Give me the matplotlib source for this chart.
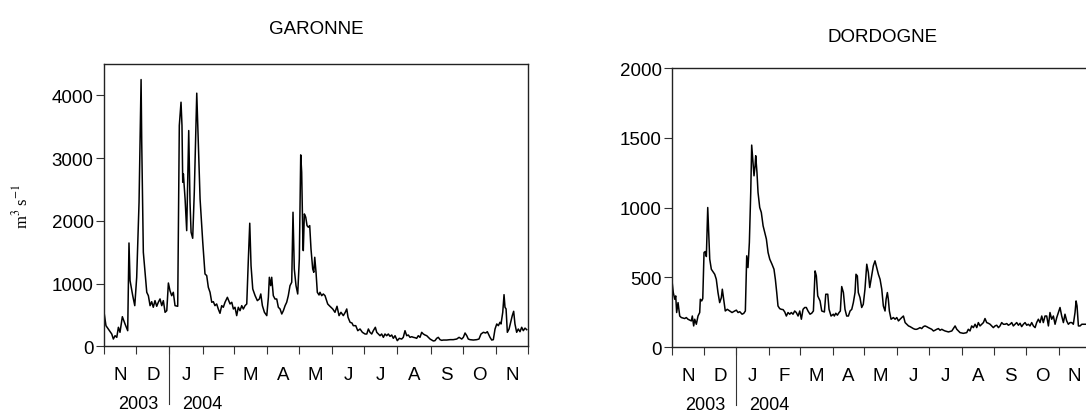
import numpy as np
import matplotlib
matplotlib.use('Agg')
import matplotlib.pyplot as plt
import matplotlib.transforms as mtransforms

plt.rcParams['font.family'] = ['Liberation Sans', 'DejaVu Sans']
plt.rcParams['mathtext.fontset'] = 'stix'

#%% data: days since 1 Nov 2003, discharge in m3/s
garonne_day = [0, 1.8, 4.0, 7.2, 8.7, 10.3, 11.9, 13.4, 14.9, 17.1, 19.6, 22.1, 23.3, 24.3,
               26.8, 28.7, 30.5, 32.7, 34.6, 35.2, 36.7, 38.3, 39.9, 41.4, 43.0, 44.5, 46.0,
               47.6, 49.2, 50.7, 52.3, 53.9, 55.4, 57.0, 58.6, 60.1, 61.6, 63.2, 64.7, 66.3,
               68.8, 70.3, 71.9, 72.8, 73.5, 74.1, 75.7, 77.2, 78.2, 79.1, 80.3, 81.3, 82.8,
               84.3, 86.6, 88.1, 89.7, 92.2, 94.3, 95.9, 97.4, 99.0, 100.6, 102.1, 103.6,
               105.2, 106.7, 108.3, 109.9, 111.4, 113.0, 115.2, 117.7, 119.3, 120.8, 122.3,
               123.9, 125.4, 127.0, 128.6, 130.1, 131.7, 133.3, 134.8, 136.1, 137.3, 138.9,
               141.1, 143.2, 145.1, 146.4, 147.9, 149.8, 152.0, 153.5, 154.4, 155.7, 156.6,
               158.1, 159.7, 161.3, 162.8, 164.4, 166.0, 167.5, 169.1, 170.6, 172.1, 173.7,
               175.3, 176.5, 177.7, 179.3, 180.9, 182.4, 183.7, 184.6, 185.6, 186.1, 187.1,
               188.4, 189.6, 190.8, 192.1, 193.3, 194.9, 195.9, 196.8, 198.0, 199.2, 200.8,
               201.7, 203.3, 204.8, 206.4, 208.9, 210.4, 212.0, 213.6, 215.7, 217.6, 219.5,
               221.3, 223.5, 225.3, 226.7, 227.9, 229.8, 231.6, 232.8, 235.1, 237.0, 239.1,
               241.3, 243.8, 245.4, 246.9, 248.4, 250.0, 251.5, 253.4, 254.7, 256.2, 257.8,
               259.3, 260.9, 262.4, 264.0, 265.5, 267.1, 268.7, 270.2, 271.8, 273.9, 275.8,
               278.0, 279.5, 281.1, 282.7, 284.2, 285.8, 287.4, 288.9, 290.5, 292.0, 293.5,
               295.1, 296.7, 298.2, 299.8, 301.4, 302.9, 304.5, 306.1, 307.6, 309.1, 310.7,
               312.2, 313.8, 315.4, 316.9, 320.1, 323.2, 326.2, 329.4, 331.6, 334.1, 335.6,
               337.2, 338.8, 340.2, 341.8, 344.9, 348.1, 350.2, 352.1, 354.3, 356.5, 358.0,
               360.5, 362.1, 363.6, 365.2, 366.8, 368.3, 369.8, 370.8, 372.4, 373.6, 374.5,
               375.5, 376.7, 378.3, 379.8, 381.3, 382.6, 383.8, 385.4, 386.9, 388.5, 390.1,
               391.6, 393.2, 394.8]
garonne_q = [542, 329, 276, 196, 116, 169, 143, 303, 223, 472, 356, 249, 1647, 1047,
             807, 648, 1100, 2297, 4252, 3254, 1500, 1180, 861, 807, 648, 711, 622,
             728, 638, 702, 755, 648, 728, 542, 568, 1009, 887, 807, 861, 648,
             638, 3519, 3891, 3519, 2616, 2748, 2349, 1844, 2721, 3439, 2297, 1818, 1722,
             2456, 4035, 3199, 2349, 1659, 1153, 1127, 941, 861, 702, 711, 648,
             675, 595, 526, 648, 622, 702, 781, 675, 702, 595, 622,
             489, 622, 568, 648, 595, 648, 675, 1392, 1962, 1285, 914,
             807, 728, 755, 834, 648, 542, 489, 781, 1100, 967, 1100,
             807, 754, 754, 622, 595, 515, 568, 648, 702, 807, 967,
             1021, 2137, 1233, 967, 834, 1392, 3051, 2775, 1791, 1525, 2110,
             2058, 1924, 1898, 1924, 1552, 1233, 1180, 1419, 1180, 861, 818,
             861, 807, 834, 807, 675, 648, 622, 595, 542, 638, 489,
             542, 489, 542, 595, 462, 383, 371, 329, 329, 249, 276,
             223, 196, 196, 276, 223, 196, 249, 303, 223, 196, 169,
             196, 143, 196, 169, 196, 159, 180, 127, 169, 90, 127,
             116, 143, 249, 169, 180, 143, 153, 143, 137, 127, 169,
             143, 223, 196, 180, 169, 143, 116, 100, 85, 90, 127,
             143, 106, 95, 100, 100, 106, 106, 116, 143, 116, 143,
             212, 169, 116, 106, 100, 106, 116, 196, 223, 212, 233,
             143, 100, 106, 276, 356, 329, 383, 356, 542, 823, 622,
             596, 223, 276, 383, 489, 558, 356, 223, 276, 233, 303,
             249, 290, 265]

dordogne_day = [0, 1.2, 2.6, 3.5, 4.4, 5.7, 7.3, 8.8, 12.0, 13.5, 15.1, 18.3, 19.2, 20.5,
                21.5, 23.0, 24.6, 26.2, 26.8, 28.1, 29.1, 30.3, 31.5, 32.5, 33.8, 34.7,
                35.7, 37.2, 40.4, 41.9, 43.5, 45.1, 46.7, 47.6, 48.9, 50.4, 52.3, 54.6,
                56.8, 59.3, 60.9, 62.5, 64.1, 66.3, 67.9, 69.4, 70.7, 71.9, 73.2, 74.5,
                75.4, 76.4, 77.6, 78.6, 79.2, 80.4, 81.4, 83.0, 84.5, 86.2, 87.8, 89.3,
                90.9, 92.5, 94.6, 96.5, 97.8, 99.1, 100.3, 101.9, 103.4, 105.1, 106.7,
                108.2, 109.8, 111.4, 112.9, 114.5, 116.1, 117.6, 119.3, 120.9, 122.4,
                124.0, 125.6, 127.1, 128.7, 130.6, 132.2, 133.8, 135.4, 136.6, 137.9,
                140.1, 141.7, 144.2, 145.5, 147.4, 148.6, 150.5, 152.7, 153.6, 155.0,
                156.5, 158.1, 159.3, 160.6, 162.2, 163.7, 165.3, 166.9, 168.5, 170.1,
                171.6, 173.2, 174.1, 175.4, 176.3, 177.9, 179.5, 181.0, 182.6, 184.3,
                185.8, 187.1, 188.4, 190.5, 192.1, 193.7, 195.3, 196.9, 198.5, 200.0,
                201.6, 202.6, 203.8, 204.7, 205.7, 207.3, 209.5, 211.1, 212.7, 214.3,
                215.8, 217.4, 219.0, 220.6, 222.2, 223.8, 225.3, 226.9, 228.4, 230.0,
                231.6, 233.1, 234.7, 236.3, 237.9, 239.4, 241.0, 242.6, 245.8, 247.4,
                248.9, 250.5, 252.1, 253.7, 255.3, 256.9, 258.4, 261.6, 264.8, 267.9,
                269.5, 272.6, 275.7, 278.9, 280.4, 282.0, 283.6, 285.2, 286.8, 288.4,
                289.9, 291.5, 293.1, 294.7, 296.2, 297.8, 299.4, 301.0, 302.6, 304.1,
                305.7, 307.3, 308.9, 310.4, 312.0, 313.6, 315.2, 316.8, 318.3, 319.9,
                321.5, 323.0, 324.6, 326.2, 327.8, 329.4, 330.9, 332.5, 334.1, 335.7,
                337.2, 338.8, 340.4, 342.0, 343.6, 345.1, 346.7, 348.3, 349.9, 351.4,
                353.0, 354.6, 356.2, 357.7, 359.3, 360.9, 362.5, 364.1, 365.6, 367.2,
                368.8, 370.4, 371.9, 373.5, 375.1, 376.7, 378.3, 379.8, 381.4, 382.4,
                383.3, 384.6, 386.2, 387.8, 389.3, 390.9, 393.0]
dordogne_q = [475, 392, 344, 368, 249, 320, 224, 213, 206, 213, 201, 189, 224, 153,
              201, 165, 224, 249, 344, 332, 349, 679, 686, 650, 1001, 834,
              631, 559, 523, 487, 392, 320, 356, 416, 344, 260, 272, 260,
              249, 260, 266, 249, 255, 237, 243, 260, 655, 571, 751, 1109,
              1448, 1348, 1228, 1300, 1372, 1252, 1109, 1001, 966, 870, 822, 775,
              679, 631, 595, 559, 487, 392, 296, 277, 272, 270, 253,
              224, 249, 237, 249, 237, 260, 249, 224, 260, 201,
              272, 285, 285, 260, 237, 244, 260, 547, 511, 368,
              332, 260, 253, 380, 380, 272, 224, 237, 224, 244,
              230, 249, 260, 435, 392, 272, 224, 224, 260, 272,
              320, 392, 523, 511, 392, 356, 285, 308, 416, 595,
              535, 428, 487, 583, 619, 571, 523, 487, 416, 296,
              260, 344, 392, 344, 260, 201, 213, 201, 213, 189,
              201, 213, 224, 177, 165, 153, 148, 141, 134, 129,
              129, 134, 141, 134, 148, 153, 148, 141, 129, 117,
              122, 129, 134, 122, 129, 122, 117, 110, 117, 153,
              129, 105, 100, 105, 129, 117, 153, 141, 165, 141,
              177, 153, 165, 177, 206, 177, 172, 165, 153, 141,
              153, 158, 141, 153, 177, 165, 165, 170, 158, 165,
              177, 153, 165, 177, 158, 172, 148, 165, 177, 158,
              165, 153, 177, 153, 141, 177, 201, 177, 224, 177,
              224, 224, 153, 249, 201, 224, 165, 213, 249, 285,
              224, 177, 237, 189, 165, 177, 177, 165, 249, 332,
              296, 153, 153, 165, 165, 165, 165]

month_letters = ['N', 'D', 'J', 'F', 'M', 'A', 'M', 'J', 'J', 'A', 'S', 'O', 'N']
year_labels = ['2003', '2004']

# month boundaries as day offsets from 1 Nov 2003
start = np.datetime64('2003-11-01')
months = np.arange(np.datetime64('2003-11'), np.datetime64('2004-12') + 1, dtype='datetime64[M]')
month_start = (months.astype('datetime64[D]') - start).astype(int)
month_mid = (month_start[:-1] + month_start[1:]) / 2.0
jan1 = (np.datetime64('2004-01-01') - start).astype(int)

#%% figure
fig = plt.figure(figsize=(10.86, 4.14), dpi=100)
ax1 = fig.add_axes([0.0958, 0.1611, 0.3904, 0.6819])
ax2 = fig.add_axes([0.6188, 0.1587, 0.3853, 0.6746])


def style_axis(ax, day, q, ymax, ystep):
    ax.plot(day, q, color='black', lw=1.1)
    ax.set_xlim(month_start[0], month_start[-1])
    ax.set_ylim(0, ymax)
    ax.set_yticks(np.arange(0, ymax + 1, ystep))
    ax.set_xticks(month_start)
    ax.set_xticklabels([])
    ax.set_xticks(month_mid, minor=True)
    ax.set_xticklabels(month_letters, minor=True)
    ax.tick_params(axis='x', which='major', direction='out', length=6, width=0.8, color='#333333')
    ax.tick_params(axis='x', which='minor', length=0, pad=14, labelsize=13.5)
    ax.tick_params(axis='y', direction='out', length=5.5, width=0.8, pad=2, labelsize=13.5,
                   color='#333333')
    for sp in ax.spines.values():
        sp.set_linewidth(1.0)
        sp.set_color('#222222')
    # long tick separating the years
    trans = mtransforms.blended_transform_factory(ax.transData, ax.transAxes)
    ax.plot([jan1, jan1], [0, -0.205], color='#333333', lw=0.8, transform=trans, clip_on=False)
    ax.annotate(year_labels[0], xy=(jan1, 0), xycoords=trans, xytext=(-8, -41),
                textcoords='offset points', ha='right', va='center', fontsize=13)
    ax.annotate(year_labels[1], xy=(jan1, 0), xycoords=trans, xytext=(9, -41),
                textcoords='offset points', ha='left', va='center', fontsize=13)


style_axis(ax1, garonne_day, garonne_q, 4500, 1000)
style_axis(ax2, dordogne_day, dordogne_q, 2000, 500)

ax1.set_ylabel(r'm$^{3}$ s$^{-1}$', family='Liberation Serif', fontsize=12)
ax1.yaxis.set_label_coords(-0.172, 0.5)

fig.text(316 / 1086, 1 - 30 / 414, 'GARONNE', ha='center', va='center', fontsize=13.5)
fig.text(883 / 1086, 1 - 38 / 414, 'DORDOGNE', ha='center', va='center', fontsize=13.5)

fig.savefig('out.png', dpi=100)
